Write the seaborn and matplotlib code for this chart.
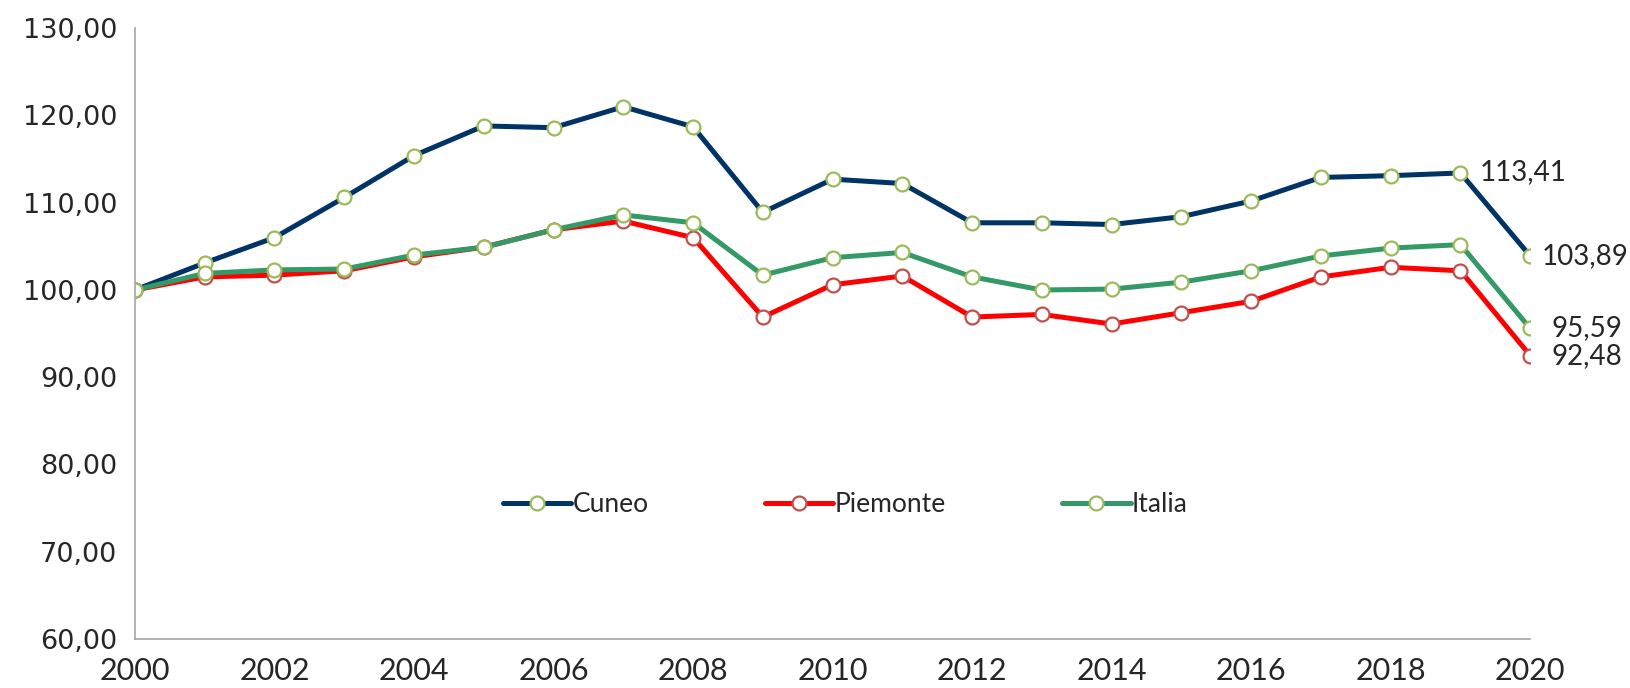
import matplotlib
import matplotlib.pyplot as plt
import numpy as np
import pandas as pd
import seaborn as sns
from matplotlib.ticker import FuncFormatter, MultipleLocator

matplotlib.use("Agg")

YEARS = list(range(2000, 2021))
SERIES_NAMES = ["Cuneo", "Piemonte", "Italia"]

CUNEO = [100.0, 103.1, 106.0, 110.6, 115.4, 118.8, 118.6, 121.0, 118.7, 108.9, 112.7,
         112.2, 107.7, 107.7, 107.5, 108.4, 110.2, 112.9, 113.1, 113.41, 103.89]
PIEMONTE = [100.0, 101.5, 101.7, 102.2, 103.8, 104.9, 106.9, 107.9, 106.0, 96.9, 100.6,
            101.6, 96.9, 97.2, 96.1, 97.4, 98.7, 101.5, 102.6, 102.2, 92.48]
ITALIA = [100.0, 101.9, 102.3, 102.4, 104.0, 104.9, 106.9, 108.6, 107.7, 101.7, 103.7,
          104.3, 101.5, 100.0, 100.1, 100.9, 102.2, 103.9, 104.8, 105.2, 95.59]

LABELS = [("Cuneo", 2019), ("Cuneo", 2020), ("Piemonte", 2020), ("Italia", 2020)]

LINE_COLORS = {"Cuneo": "#003366", "Piemonte": "#FF0000", "Italia": "#339966"}
EDGE_COLORS = {"Cuneo": "#9BBB59", "Piemonte": "#C0504D", "Italia": "#9BBB59"}
NARROW = ["Lato", "DejaVu Sans"]


def it_fmt(v, _pos=None):
    return f"{v:.2f}".replace(".", ",")


df = pd.DataFrame({"anno": YEARS, "Cuneo": CUNEO, "Piemonte": PIEMONTE, "Italia": ITALIA})
long_df = df.melt(id_vars="anno", var_name="serie", value_name="valore")

sns.set_style("white")
plt.rcParams["font.family"] = ["DejaVu Sans"]

fig = plt.figure(figsize=(16.3, 6.88), dpi=100, facecolor="white")
ax = fig.add_axes([0.0828, 0.0712, 0.856, 0.8878])

for name in SERIES_NAMES:
    sub = long_df[long_df["serie"] == name]
    sns.lineplot(
        data=sub, x="anno", y="valore", ax=ax, color=LINE_COLORS[name], linewidth=3.6,
        marker="o", markersize=10, markerfacecolor="white",
        markeredgecolor=EDGE_COLORS[name], markeredgewidth=1.6, label=name,
    )

# data labels at the end of the series
offsets = {("Cuneo", 2019): (14, 1), ("Cuneo", 2020): (8, 0),
           ("Piemonte", 2020): (15, 0), ("Italia", 2020): (15, 0)}
for name, year in LABELS:
    val = df.loc[df["anno"] == year, name].iloc[0]
    ax.annotate(it_fmt(val), (year, val), xytext=offsets[(name, year)], textcoords="offset points",
                ha="left", va="center", fontsize=20, family=NARROW)

ax.set_xlim(2000, 2020)
ax.set_ylim(60, 130)
ax.xaxis.set_major_locator(MultipleLocator(2))
ax.xaxis.set_minor_locator(MultipleLocator(1))
ax.yaxis.set_major_locator(MultipleLocator(10))
ax.yaxis.set_major_formatter(FuncFormatter(it_fmt))
ax.set_xlabel("")
ax.set_ylabel("")

for side in ["top", "right"]:
    ax.spines[side].set_visible(False)
for side in ["left", "bottom"]:
    ax.spines[side].set_color("#A6A6A6")
    ax.spines[side].set_linewidth(1.2)

ax.tick_params(axis="y", which="major", direction="out", length=8, width=1.2, color="#A6A6A6",
               labelsize=19.5, pad=5)
ax.tick_params(axis="x", which="both", direction="out", length=8, width=1.2, color="#A6A6A6",
               labelsize=22, pad=5)
for lbl in ax.get_xticklabels():
    lbl.set_family(NARROW)

ax.legend(loc="center", bbox_to_anchor=(0.509, 0.22), ncol=3, frameon=False,
          handlelength=2.6, handletextpad=0.05, columnspacing=4.4,
          prop={"family": NARROW, "size": 19})

fig.savefig("out.png", dpi=100, facecolor="white")
plt.close(fig)
